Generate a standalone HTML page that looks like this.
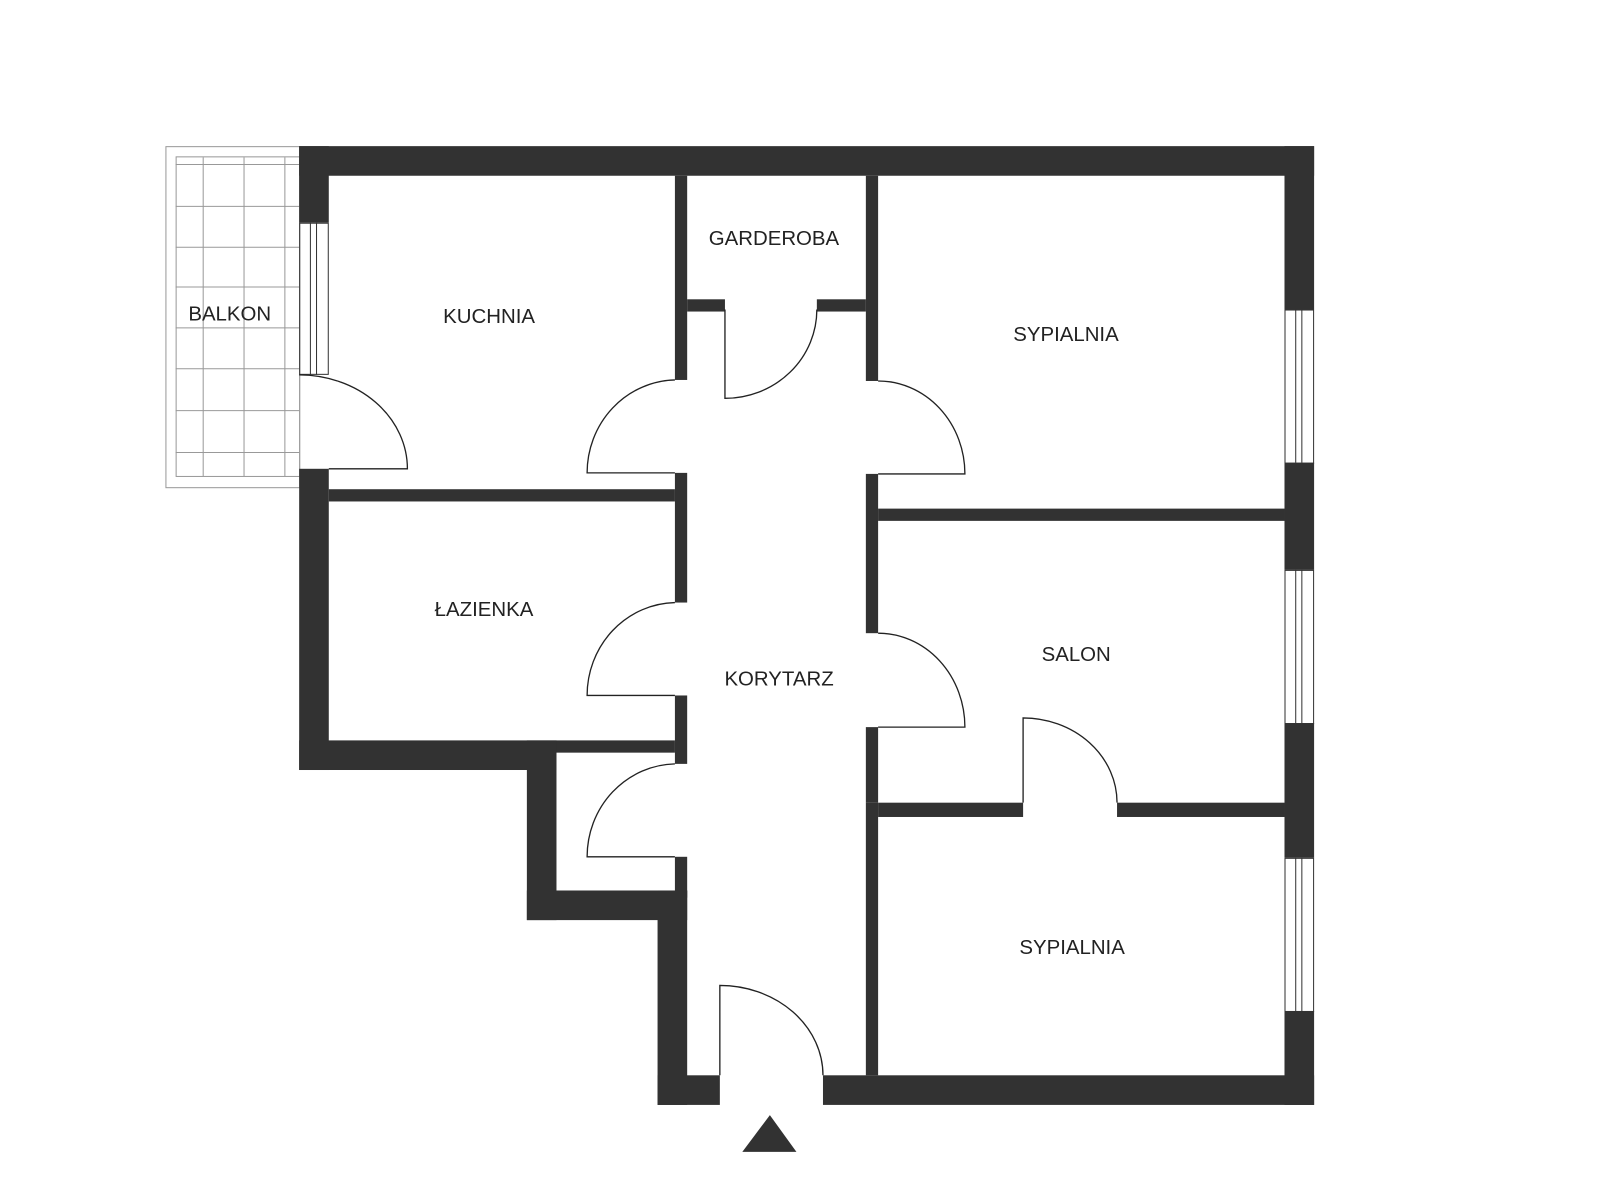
<!DOCTYPE html>
<html><head><meta charset="utf-8"><style>
html,body{margin:0;padding:0;background:#fff;}
svg{display:block;}
text{font-family:"Liberation Sans",sans-serif;font-size:20px;fill:#222;text-anchor:middle;}
</style></head><body>
<svg width="1600" height="1200" viewBox="0 0 1567 1175" xmlns="http://www.w3.org/2000/svg">
<rect width="1567" height="1175" fill="#fff"/>
<!-- balcony -->
<g fill="none" stroke="#999" stroke-width="1">
<rect x="162.5" y="143.5" width="131" height="334"/>
<rect x="172.5" y="153.5" width="121" height="313"/>
<line x1="199" y1="154" x2="199" y2="466"/><line x1="239" y1="154" x2="239" y2="466"/><line x1="279" y1="154" x2="279" y2="466"/>
<line x1="172" y1="161" x2="293" y2="161"/><line x1="172" y1="202" x2="293" y2="202"/><line x1="172" y1="242" x2="293" y2="242"/>
<line x1="172" y1="281" x2="293" y2="281"/><line x1="172" y1="321" x2="293" y2="321"/><line x1="172" y1="361" x2="293" y2="361"/>
<line x1="172" y1="402" x2="293" y2="402"/><line x1="172" y1="443" x2="293" y2="443"/>
</g>
<g fill="#323232">
<!-- outer walls -->
<rect x="293" y="143" width="994" height="29"/>
<rect x="293" y="143" width="29" height="75"/>
<rect x="293" y="459" width="29" height="295"/>
<rect x="293" y="725" width="252" height="29"/>
<rect x="516" y="725" width="29" height="176"/>
<rect x="516" y="872" width="157" height="29"/>
<rect x="644" y="872" width="29" height="210"/>
<rect x="644" y="1053" width="61" height="29"/>
<rect x="806" y="1053" width="481" height="29"/>
<rect x="1258" y="143" width="29" height="160"/>
<rect x="1258" y="453" width="29" height="105"/>
<rect x="1258" y="708" width="29" height="132"/>
<rect x="1258" y="990" width="29" height="92"/>
<!-- interior walls -->
<rect x="661" y="172" width="12" height="200"/>
<rect x="661" y="463" width="12" height="127"/>
<rect x="661" y="681" width="12" height="67"/>
<rect x="661" y="839" width="12" height="40"/>
<rect x="848" y="172" width="12" height="201"/>
<rect x="848" y="464" width="12" height="156"/>
<rect x="848" y="712" width="12" height="74"/>
<rect x="848" y="786" width="12" height="267"/>
<rect x="673" y="293" width="37" height="12"/>
<rect x="800" y="293" width="48" height="12"/>
<rect x="322" y="479" width="339" height="12"/>
<rect x="545" y="725" width="116" height="12"/>
<rect x="860" y="498" width="398" height="12"/>
<rect x="860" y="786" width="142" height="14"/>
<rect x="1094" y="786" width="164" height="14"/>
</g>
<!-- windows -->
<g fill="none" stroke="#333" stroke-width="1">
<rect x="293.5" y="218.5" width="28" height="148"/><line x1="304" y1="218" x2="304" y2="367"/><line x1="310" y1="218" x2="310" y2="367"/>
<rect x="1258.5" y="303.5" width="28" height="150"/><line x1="1269" y1="303" x2="1269" y2="453"/><line x1="1275" y1="303" x2="1275" y2="453"/>
<rect x="1258.5" y="558.5" width="28" height="150"/><line x1="1269" y1="558" x2="1269" y2="708"/><line x1="1275" y1="558" x2="1275" y2="708"/>
<rect x="1258.5" y="840.5" width="28" height="150"/><line x1="1269" y1="840" x2="1269" y2="990"/><line x1="1275" y1="840" x2="1275" y2="990"/>
</g>
<!-- doors -->
<g fill="none" stroke="#222" stroke-width="1.3">
<path d="M293 367 A106 92 0 0 1 399 459 L322 459"/>
<path d="M661 372 A88 91 0 0 0 575 463 L661 463"/>
<path d="M661 590 A88 91 0 0 0 575 681 L661 681"/>
<path d="M661 748 A88 91 0 0 0 575 839 L661 839"/>
<path d="M860 373 A85 91 0 0 1 945 464 L860 464"/>
<path d="M860 620 A85 92 0 0 1 945 712 L860 712"/>
<path d="M710 303 L710 390 A90 87 0 0 0 800 303"/>
<path d="M1002 786 L1002 703 A92 83 0 0 1 1094 786"/>
<path d="M705 1053 L705 965 A101 88 0 0 1 806 1053"/>
</g>
<polygon points="727,1128 780,1128 754,1092" fill="#323232"/>
<text x="225" y="314">BALKON</text>
<text x="479" y="316">KUCHNIA</text>
<text x="758" y="240">GARDEROBA</text>
<text x="1044" y="334">SYPIALNIA</text>
<text x="474" y="603">ŁAZIENKA</text>
<text x="763" y="671">KORYTARZ</text>
<text x="1054" y="647">SALON</text>
<text x="1050" y="934">SYPIALNIA</text>
</svg>
</body></html>
